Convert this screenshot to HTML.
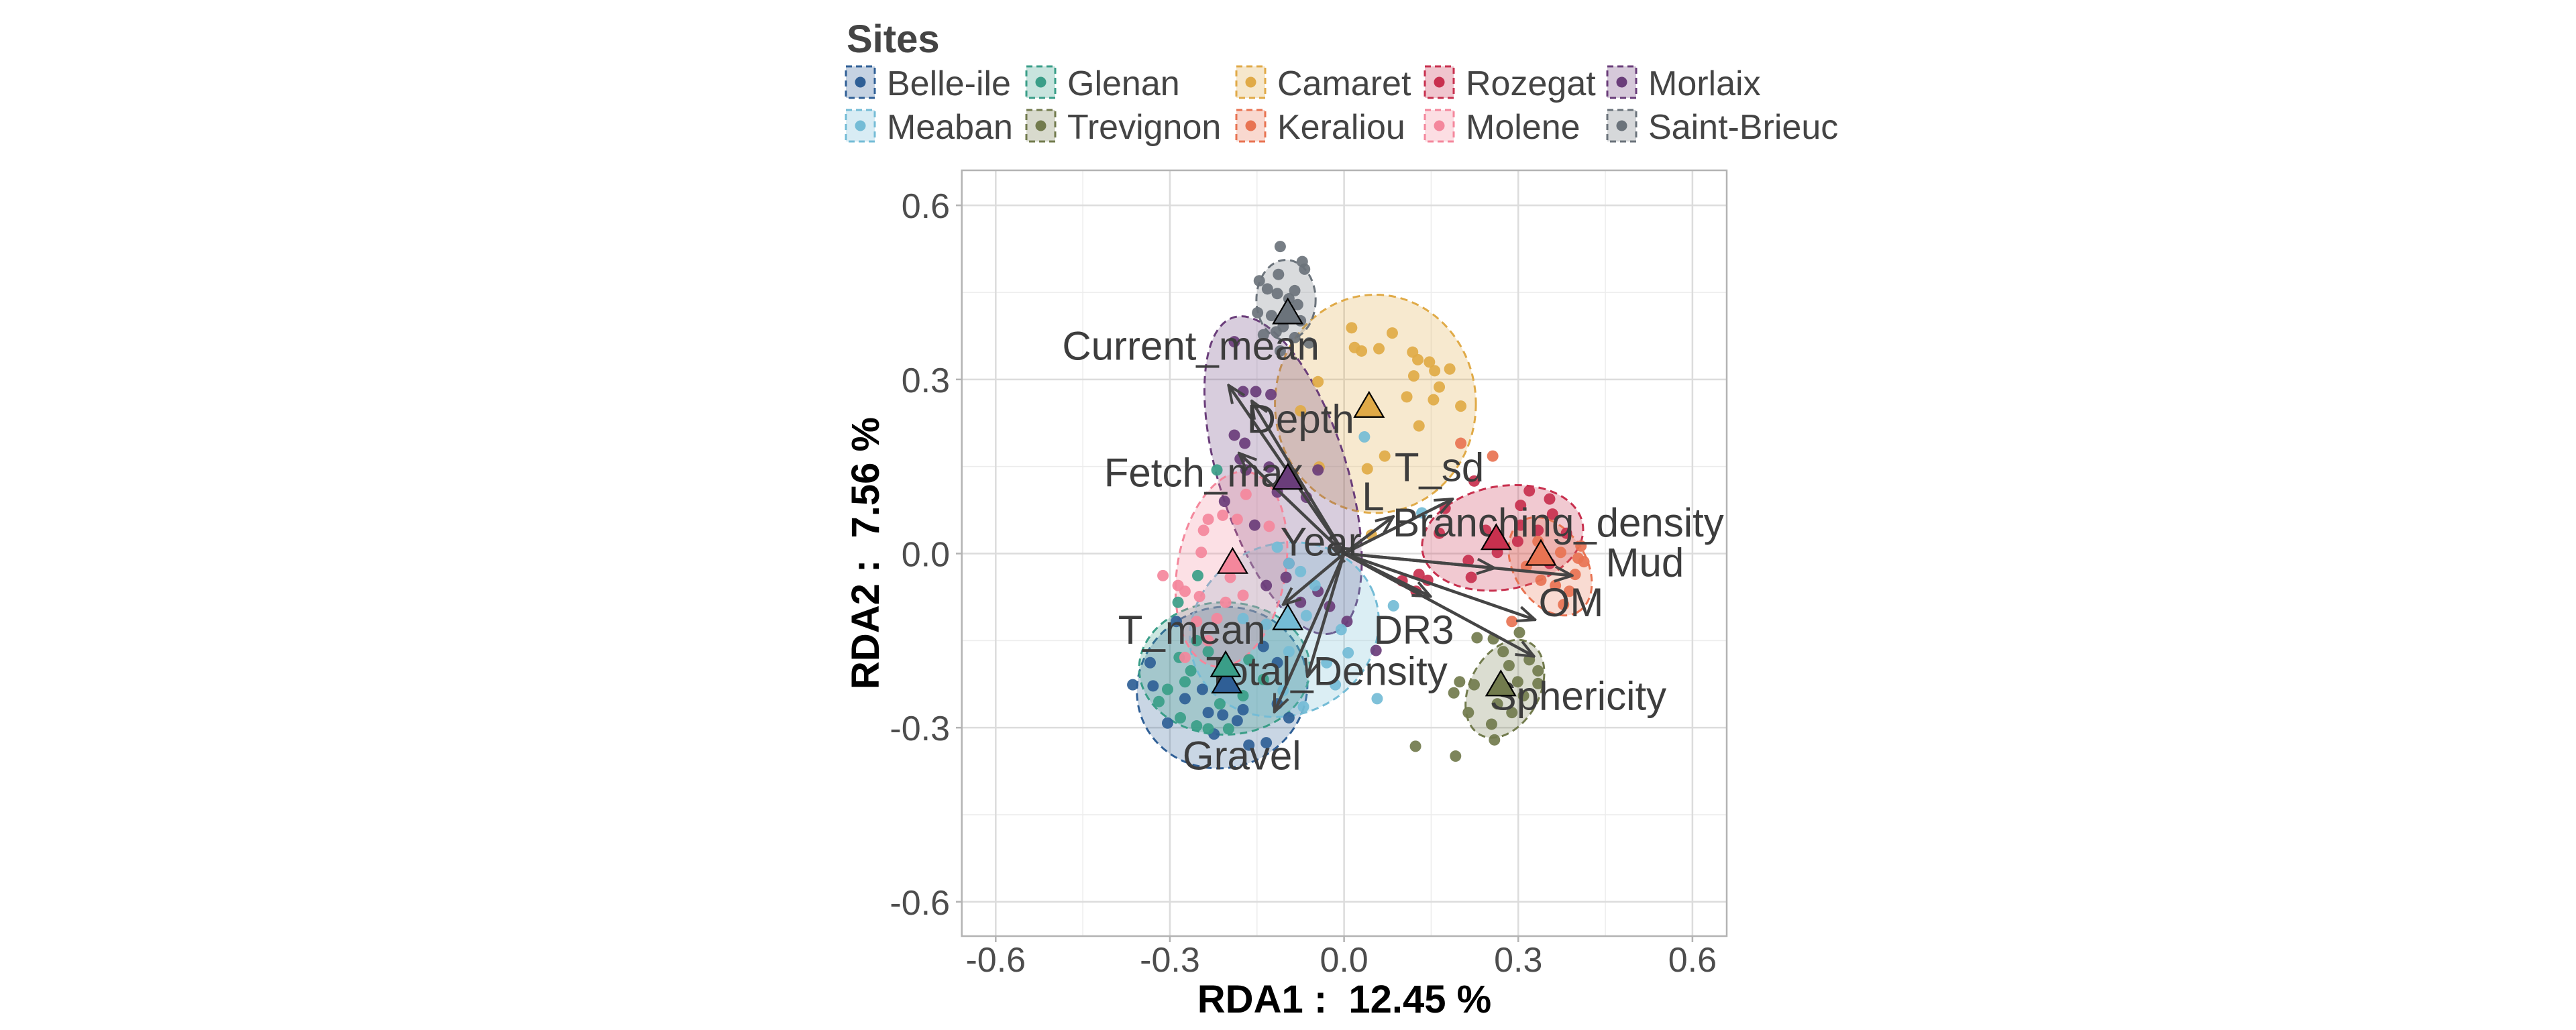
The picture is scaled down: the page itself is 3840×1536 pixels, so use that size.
<!DOCTYPE html>
<html><head><meta charset="utf-8"><style>
html,body{margin:0;padding:0;background:#fff;}
svg{display:block;font-family:"Liberation Sans",Arial,sans-serif;}
</style></head><body>
<svg id="chart" width="3840" height="1536" viewBox="0 0 3840 1536" xmlns="http://www.w3.org/2000/svg">
<defs>
<marker id="ah" viewBox="0 0 30 30" refX="28" refY="15" markerWidth="30" markerHeight="30" markerUnits="userSpaceOnUse" orient="auto">
<path d="M2,4 L28,15 L2,26" fill="none" stroke="#454545" stroke-width="4"/>
</marker>
</defs>
<g id="legend"></g>
<rect x="1433.7" y="254" width="1140.3" height="1142" fill="#fff"/>
<g id="grid"></g>
<g id="ellipses"></g>
<g id="points"></g>
<g id="arrows"></g>
<g id="labels"></g>
<g id="centroids"></g>
<rect x="1433.7" y="254" width="1140.3" height="1142" fill="none" stroke="#b3b3b3" stroke-width="2.5"/>
<g id="axes"></g>
<text x="2004" y="1510" font-size="58" font-weight="bold" text-anchor="middle" fill="#000">RDA1 :&#160; 12.45 %</text>
<text transform="translate(1310,825) rotate(-90)" font-size="58" font-weight="bold" text-anchor="middle" fill="#000">RDA2 :&#160; 7.56 %</text>
</svg>
<script>
const sites = ["Belle-ile","Glenan","Camaret","Rozegat","Morlaix","Meaban","Trevignon","Keraliou","Molene","Saint-Brieuc"];
const siteColors = ["#2f5f96","#3a9e88","#e0aa47","#c8304e","#6a3d7a","#74bcd6","#727b4d","#e87352","#f4879c","#6b737b"];
const xTicks = [-0.6,-0.3,0.0,0.3,0.6];
const yTicks = [-0.6,-0.3,0.0,0.3,0.6];
const tickLabels = ["-0.6","-0.3","0.0","0.3","0.6"];
const centroidX = [-0.202,-0.204,0.043,0.262,-0.097,-0.097,0.270,0.339,-0.192,-0.097];
const centroidY = [-0.221,-0.193,0.254,0.026,0.130,-0.112,-0.226,-0.001,-0.015,0.415];
const ellCX = [-0.210,-0.206,0.054,0.273,-0.105,-0.103,0.277,0.355,-0.194,-0.100];
const ellCY = [-0.231,-0.198,0.258,0.027,0.135,-0.131,-0.233,-0.022,-0.027,0.437];
const ellA = [0.148,0.147,0.173,0.140,0.285,0.166,0.090,0.092,0.170,0.051];
const ellB = [0.138,0.114,0.188,0.089,0.110,0.147,0.060,0.062,0.093,0.069];
const ellRot = [-20,0,0,-10,72.5,-25,-62,58,-80,0];
const ptsBelle = [[-0.364,-0.226],[-0.329,-0.228],[-0.289,-0.117],[-0.244,-0.234],[-0.274,-0.250],[-0.234,-0.274],[-0.209,-0.278],[-0.184,-0.288],[-0.164,-0.330],[-0.134,-0.326],[-0.224,-0.311],[-0.174,-0.269],[-0.115,-0.259],[-0.095,-0.283],[-0.304,-0.292],[-0.334,-0.188],[-0.139,-0.160],[-0.115,-0.188]];
const ptsGlenan = [[-0.219,0.144],[-0.286,-0.084],[-0.252,-0.038],[-0.304,-0.234],[-0.274,-0.221],[-0.264,-0.202],[-0.234,-0.169],[-0.214,-0.259],[-0.174,-0.245],[-0.282,-0.283],[-0.254,-0.297],[-0.234,-0.302],[-0.319,-0.255],[-0.164,-0.183],[-0.284,-0.179],[-0.139,-0.217],[-0.199,-0.302],[-0.254,-0.150]];
const ptsCamaret = [[0.013,0.389],[0.083,0.380],[0.060,0.353],[0.030,0.349],[0.118,0.347],[0.127,0.334],[0.147,0.330],[0.182,0.318],[0.120,0.306],[0.164,0.287],[0.154,0.265],[0.108,0.270],[0.201,0.254],[0.129,0.220],[0.070,0.168],[0.040,0.146],[-0.045,0.296],[-0.075,0.246],[-0.043,0.149],[0.156,0.315],[0.018,0.355],[0.047,0.032]];
const ptsRozegat = [[0.224,0.125],[0.319,0.108],[0.354,0.094],[0.304,0.083],[0.359,0.068],[0.174,0.078],[0.304,0.049],[0.244,0.040],[0.383,0.035],[0.214,-0.012],[0.264,0.002],[0.354,-0.017],[0.144,-0.046],[0.219,-0.041],[0.129,-0.036],[0.100,-0.047],[0.124,-0.065],[0.299,0.021],[0.334,0.040],[0.164,0.035]];
const ptsMorlaix = [[-0.189,0.365],[-0.174,0.279],[-0.152,0.279],[-0.126,0.274],[-0.189,0.204],[-0.171,0.190],[-0.206,0.090],[-0.179,0.163],[-0.129,0.149],[-0.045,0.144],[-0.095,-0.017],[-0.100,-0.041],[-0.075,-0.084],[-0.025,-0.091],[0.005,-0.117],[0.055,-0.167],[-0.115,0.106],[-0.065,0.097],[-0.154,0.049],[-0.134,-0.055],[-0.045,-0.065],[-0.169,0.144]];
const ptsMeaban = [[-0.115,0.011],[-0.095,-0.017],[-0.075,-0.031],[-0.050,-0.055],[-0.005,-0.131],[0.007,-0.171],[0.085,-0.090],[0.057,-0.250],[-0.070,-0.264],[-0.105,-0.236],[-0.030,-0.188],[-0.095,-0.169],[-0.174,-0.112],[-0.065,-0.107],[-0.134,-0.122],[-0.015,-0.226],[0.134,0.070],[0.035,0.201]];
const ptsTrevignon = [[0.229,-0.145],[0.257,-0.147],[0.302,-0.136],[0.274,-0.169],[0.319,-0.183],[0.334,-0.202],[0.299,-0.221],[0.334,-0.224],[0.224,-0.226],[0.264,-0.259],[0.214,-0.274],[0.289,-0.274],[0.254,-0.294],[0.259,-0.321],[0.199,-0.221],[0.189,-0.240],[0.123,-0.332],[0.192,-0.349],[0.309,-0.245],[0.284,-0.193]];
const ptsKeraliou = [[0.256,0.168],[0.201,0.190],[0.289,-0.117],[0.334,0.021],[0.373,0.002],[0.408,0.013],[0.413,-0.014],[0.398,-0.036],[0.364,-0.055],[0.388,-0.065],[0.339,-0.046],[0.314,-0.022],[0.378,-0.088],[0.403,-0.008]];
const ptsMolene = [[-0.312,-0.038],[-0.274,-0.065],[-0.246,0.002],[-0.242,0.040],[-0.234,0.059],[-0.209,0.066],[-0.184,0.059],[-0.129,0.047],[-0.249,-0.074],[-0.204,-0.084],[-0.174,-0.072],[-0.219,-0.112],[-0.254,-0.117],[-0.234,-0.150],[-0.274,-0.179],[-0.169,0.102],[-0.196,-0.041],[-0.286,-0.055]];
const ptsSaint = [[-0.110,0.529],[-0.072,0.503],[-0.068,0.490],[-0.113,0.481],[-0.146,0.470],[-0.132,0.456],[-0.085,0.453],[-0.115,0.448],[-0.095,0.439],[-0.080,0.429],[-0.149,0.415],[-0.125,0.410],[-0.075,0.401],[-0.105,0.391],[-0.139,0.377],[-0.085,0.372],[-0.060,0.363],[-0.110,0.349],[-0.117,0.382]];
const sitePoints = [ptsBelle,ptsGlenan,ptsCamaret,ptsRozegat,ptsMorlaix,ptsMeaban,ptsTrevignon,ptsKeraliou,ptsMolene,ptsSaint];
const varNames = ["Current_mean","Depth","Fetch_max","T_sd","L","Branching_density","Mud","OM","Sphericity","DR3","Total_Density","T_mean","Gravel","Year"];
const varX = [-0.199,-0.159,-0.181,0.187,0.085,0.259,0.393,0.329,0.327,0.149,-0.063,-0.105,-0.120,-0.020];
const varY = [0.290,0.263,0.173,0.094,0.064,-0.025,-0.038,-0.114,-0.177,-0.074,-0.212,-0.088,-0.273,0.010];
const labX = [-0.264,-0.075,-0.242,0.164,0.050,0.369,0.518,0.391,0.403,0.120,-0.030,-0.262,-0.176,-0.040];
const labY = [0.358,0.232,0.140,0.149,0.099,0.054,-0.015,-0.084,-0.245,-0.131,-0.202,-0.131,-0.348,0.021];

const NS="http://www.w3.org/2000/svg";
const X0=2003.6, Y0=825.5, PPU=865.5;
function sx(v){return X0+v*PPU;}
function sy(v){return Y0-v*PPU;}
function mk(tag,attrs,parent){const e=document.createElementNS(NS,tag);for(const k in attrs)e.setAttribute(k,attrs[k]);parent.appendChild(e);return e;}

const grid=document.getElementById('grid');
const minor=[-0.45,-0.15,0.15,0.45];
minor.forEach(v=>{
  const l1=mk('line',{x1:sx(v),x2:sx(v),y1:254,y2:1396,stroke:'#ececec','stroke-width':1.5},grid);
  
  
  const l2=mk('line',{x1:1433.7,x2:2574,y1:sy(v),y2:sy(v),stroke:'#ececec','stroke-width':1.5},grid);
  
  
});
xTicks.forEach(v=>{
  const l=mk('line',{x1:sx(v),x2:sx(v),y1:254,y2:1396,stroke:'#dcdcdc','stroke-width':2.5},grid);
  
  
});
yTicks.forEach(v=>{
  const l=mk('line',{x1:1433.7,x2:2574,y1:sy(v),y2:sy(v),stroke:'#dcdcdc','stroke-width':2.5},grid);
  
  
});
const axes=document.getElementById('axes');
xTicks.forEach((v,i)=>{
  const t=mk('line',{x1:sx(v),x2:sx(v),y1:1396,y2:1405,stroke:'#b3b3b3','stroke-width':2.5},axes);
  
  
  const tx=mk('text',{x:sx(v),y:1449,'font-size':52,'text-anchor':'middle',fill:'#4d4d4d'},axes);
  tx.textContent=tickLabels[i];
  
  
});
yTicks.forEach((v,i)=>{
  const t=mk('line',{x1:1425,x2:1433.7,y1:sy(v),y2:sy(v),stroke:'#b3b3b3','stroke-width':2.5},axes);
  
  
  const tx=mk('text',{x:1416,y:sy(v)+19,'font-size':52,'text-anchor':'end',fill:'#4d4d4d'},axes);
  tx.textContent=tickLabels[i];
  
  
});
const eg=document.getElementById('ellipses');
sites.forEach((s,i)=>{
  const e=mk('ellipse',{cx:0,cy:0,rx:ellA[i]*PPU,ry:ellB[i]*PPU,fill:siteColors[i],'fill-opacity':0.26,stroke:siteColors[i],'stroke-width':3,'stroke-dasharray':'11 7',
    transform:`translate(${sx(ellCX[i])},${sy(ellCY[i])}) rotate(${ellRot[i]})`},eg);
  
  
});
const pg=document.getElementById('points');
sitePoints.forEach((arr,i)=>{
  arr.forEach(p=>{
    const c=mk('circle',{cx:sx(p[0]),cy:sy(p[1]),r:8.5,fill:siteColors[i],'fill-opacity':0.92},pg);
    
    
  });
});
const ag=document.getElementById('arrows'), lg=document.getElementById('labels');
varNames.forEach((n,i)=>{
  const a=mk('line',{x1:sx(0),y1:sy(0),x2:sx(varX[i]),y2:sy(varY[i]),stroke:'#454545','stroke-width':4.5,'marker-end':'url(#ah)'},ag);
  
  
  const t=mk('text',{x:sx(labX[i]),y:sy(labY[i])+21,'font-size':60,'text-anchor':'middle',fill:'#3d3d3d'},lg);
  t.textContent=n;
  
  
});
const cg=document.getElementById('centroids');
sites.forEach((s,i)=>{
  const cx=sx(centroidX[i]), cy=sy(centroidY[i]), h=18;
  const tr=mk('polygon',{points:`${cx},${cy-h*1.15} ${cx+h*1.2},${cy+h*0.9} ${cx-h*1.2},${cy+h*0.9}`,fill:siteColors[i],stroke:'#000','stroke-width':2.2},cg);
  
  
});
const leg=document.getElementById('legend');
const title=mk('text',{x:1262,y:78,'font-size':58,'font-weight':'bold',fill:'#444'},leg);
title.textContent='Sites';


const colX=[1261,1530,1843,2124,2396];
const rowY=[99,164];
sites.forEach((s,i)=>{
  const col=i%5,row=Math.floor(i/5);
  const g=mk('g',{},leg);
  
  
  const x=colX[col],y=rowY[row];
  mk('rect',{x:x,y:y,width:43,height:47,fill:siteColors[i],'fill-opacity':0.28,stroke:siteColors[i],'stroke-width':3,'stroke-dasharray':'9 6'},g);
  mk('circle',{cx:x+21.5,cy:y+23.5,r:8,fill:siteColors[i]},g);
  const t=mk('text',{x:x+61,y:y+43,'font-size':52,fill:'#444'},g);
  t.textContent=s;
});
</script>
</body></html>
